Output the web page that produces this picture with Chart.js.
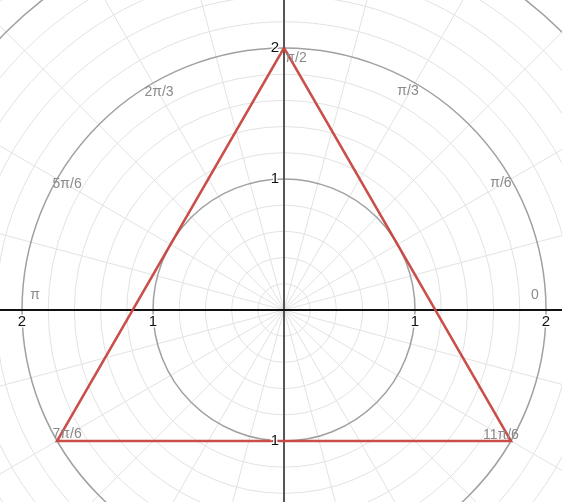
<!DOCTYPE html>
<html><head><meta charset="utf-8">
<script src="https://cdn.jsdelivr.net/npm/chart.js@4"></script>
<style>html,body{margin:0;padding:0;background:#fff;overflow:hidden}</style>
</head><body>
<canvas id="c" width="562" height="502"></canvas>
<script>
// Triangle vertices (x, y) — polygon closed back to the first vertex
const triangleX = [0, -1.732, 1.732, 0];
const triangleY = [2, -1, -1, 2];
// Axis tick values and their labels (Desmos polar shows |r|)
const xTickValues = [-2, -1, 1, 2];
const xTickLabels = ['2', '1', '1', '2'];
const yTickValues = [2, 1, -1];
const yTickLabels = ['2', '1', '1'];
// Angle labels drawn on the r = 2 circle
const angleDegrees = [0, 30, 60, 90, 120, 150, 180, 210, 330];
const angleLabels = ['0', 'π/6', 'π/3', 'π/2', '2π/3', '5π/6', 'π', '7π/6', '11π/6'];
const angleLabelRadius = 2;
// Visible window
const xRange = [-2.168, 2.122];
const yRange = [-1.466, 2.366];

const labelOffsets = {0:[-11,-15],30:[-10,4],60:[-7,8],90:[12,10],120:[6,9],150:[10,5],180:[13,-15],210:[10,-7],330:[-10,-6]};

const polarGrid = {
  id: 'polarGrid',
  beforeDatasetsDraw(chart) {
    const {ctx, scales: {x, y}, chartArea: a} = chart;
    const cx = x.getPixelForValue(0), cy = y.getPixelForValue(0);
    const unit = x.getPixelForValue(1) - cx;
    ctx.save();
    ctx.beginPath(); ctx.rect(a.left, a.top, a.right - a.left, a.bottom - a.top); ctx.clip();
    const rMax = 3.6;
    // radial lines every 15 degrees
    ctx.strokeStyle = '#e2e2e2'; ctx.lineWidth = 1;
    for (let k = 0; k < 24; k++) {
      const t = k * Math.PI / 12;
      ctx.beginPath(); ctx.moveTo(cx, cy);
      ctx.lineTo(cx + Math.cos(t) * rMax * unit, cy - Math.sin(t) * rMax * unit); ctx.stroke();
    }
    // circles every 0.2
    for (let i = 1; i <= 18; i++) {
      const r = i * 0.2;
      const major = i % 5 === 0;
      ctx.strokeStyle = major ? '#a0a0a0' : '#e2e2e2';
      ctx.lineWidth = major ? 1.5 : 1;
      ctx.beginPath(); ctx.arc(cx, cy, r * unit, 0, Math.PI * 2); ctx.stroke();
    }
    // axes
    ctx.lineWidth = 2;
    ctx.strokeStyle = '#555';
    ctx.beginPath(); ctx.moveTo(cx, a.top); ctx.lineTo(cx, a.bottom); ctx.stroke();
    ctx.strokeStyle = '#111';
    ctx.beginPath(); ctx.moveTo(a.left, cy); ctx.lineTo(a.right, cy); ctx.stroke();
    ctx.restore();
  },
  afterDatasetsDraw(chart) {
    const {ctx, scales: {x, y}} = chart;
    const cx = x.getPixelForValue(0), cy = y.getPixelForValue(0);
    ctx.save();
    ctx.font = '14px "Liberation Sans", Arial, sans-serif';
    // angle labels
    ctx.fillStyle = '#8a8a8a'; ctx.textAlign = 'center'; ctx.textBaseline = 'middle';
    angleDegrees.forEach((d, i) => {
      const t = d * Math.PI / 180;
      const px = x.getPixelForValue(angleLabelRadius * Math.cos(t));
      const py = y.getPixelForValue(angleLabelRadius * Math.sin(t));
      const o = labelOffsets[d] || [0, 0];
      ctx.fillText(angleLabels[i], px + o[0], py + o[1]);
    });
    // tick labels with white halo
    ctx.lineWidth = 3; ctx.strokeStyle = 'rgba(255,255,255,0.9)'; ctx.fillStyle = '#111';
    ctx.font = '15px "Liberation Sans", Arial, sans-serif';
    ctx.textAlign = 'center'; ctx.textBaseline = 'top';
    xTickValues.forEach((v, i) => {
      const px = x.getPixelForValue(v);
      ctx.strokeText(xTickLabels[i], px, cy + 4);
      ctx.fillText(xTickLabels[i], px, cy + 4);
    });
    ctx.textAlign = 'right'; ctx.textBaseline = 'middle';
    yTickValues.forEach((v, i) => {
      const py = y.getPixelForValue(v);
      ctx.strokeText(yTickLabels[i], cx - 5, py);
      ctx.fillText(yTickLabels[i], cx - 5, py);
    });
    ctx.restore();
  }
};

new Chart(document.getElementById('c'), {
  type: 'scatter',
  data: {
    datasets: [{
      data: triangleX.map((v, i) => ({x: v, y: triangleY[i]})),
      showLine: true,
      borderColor: 'rgba(199,68,64,0.95)',
      borderWidth: 2.6,
      pointRadius: 0,
      fill: false,
      tension: 0
    }]
  },
  options: {
    responsive: false,
    animation: false,
    devicePixelRatio: 1,
    layout: {padding: 0},
    plugins: {legend: {display: false}, tooltip: {enabled: false}},
    scales: {
      x: {type: 'linear', min: xRange[0], max: xRange[1], display: false},
      y: {type: 'linear', min: yRange[0], max: yRange[1], display: false}
    }
  },
  plugins: [polarGrid]
});
</script>
</body></html>
